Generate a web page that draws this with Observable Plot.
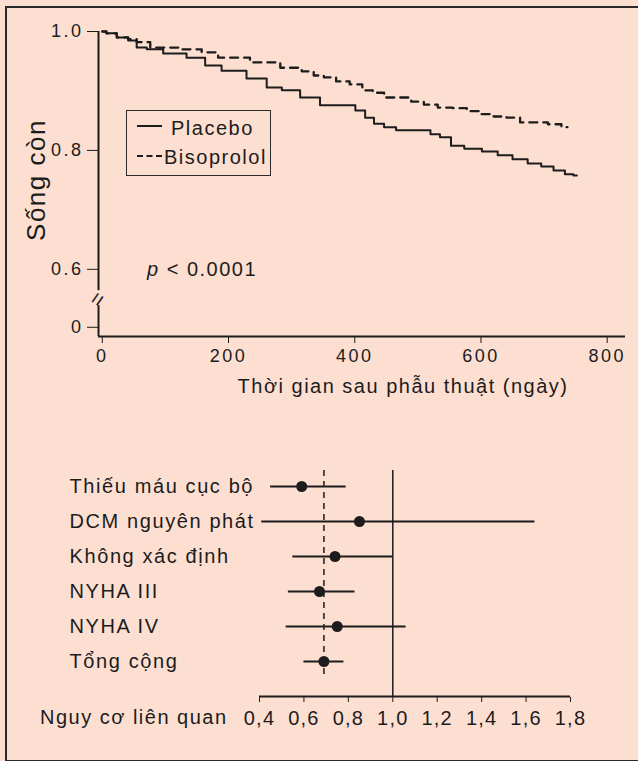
<!DOCTYPE html>
<html><head><meta charset="utf-8">
<script src="https://cdn.jsdelivr.net/npm/d3@7"></script>
<script src="https://cdn.jsdelivr.net/npm/@observablehq/plot@0.6"></script>
<style>
html,body{margin:0;padding:0;background:#fddfd1;}
#wrap{position:relative;width:638px;height:761px;overflow:hidden;background:#fddfd1;font-family:"Liberation Sans",Arial,sans-serif;color:#1c1c1c;}
#frame{position:absolute;left:5px;top:6px;width:700px;height:752px;border:2px solid #2a2a2a;}
.abs{position:absolute;white-space:nowrap;}
#top svg text{letter-spacing:2.5px;}
#bottom svg text{letter-spacing:1.2px;}
#bottom svg g[aria-label="text"] text{letter-spacing:1.6px;}
.lbl{font-size:20px;letter-spacing:1.5px;line-height:1;}
#legend{left:126px;top:110px;width:145px;height:66px;box-sizing:border-box;border:1.5px solid #2a2a2a;}
.sample{position:absolute;left:10px;width:25px;height:0;}
</style></head><body>
<div id="wrap">
  <div id="frame"></div>
  <div id="top" class="abs" style="left:0;top:0;width:638px"></div>
  <div id="bottom" class="abs" style="left:0;top:440px;width:638px"></div>
  <div class="abs lbl" id="ylab" style="left:36px;top:180px;font-size:26px;transform:translate(-50%,-50%) rotate(-90deg);">Sống còn</div>
  <div class="abs lbl" id="xlab" style="left:403px;top:376px;transform:translateX(-50%);">Thời gian sau phẫu thuật (ngày)</div>
  <div class="abs" id="legend">
    <div class="sample" style="top:14px;border-top:2px solid #1c1c1c;"></div>
    <div class="abs lbl" style="left:44px;top:7px;">Placebo</div>
    <div class="sample" style="top:44px;border-top:2px dashed #1c1c1c;"></div>
    <div class="abs lbl" style="left:37px;top:36px;">Bisoprolol</div>
  </div>
  <div class="abs lbl" style="left:147px;top:259px;"><i>p</i> &lt; 0.0001</div>
  <div class="abs lbl" style="left:40px;top:707px;">Nguy cơ liên quan</div>
</div>
<script>
const ink = "#1c1c1c";
const font = "'Liberation Sans', Arial, sans-serif";

// Kaplan–Meier survival (days after surgery, survival proportion)
const placeboDays = [0, 13, 33, 49, 60, 81, 112, 155, 171, 207, 250, 271, 298, 329, 361, 393, 409, 424, 437, 456, 475, 516, 524, 546, 559, 588, 615, 638, 662, 686, 705, 725, 741, 752];
const placeboSurv = [1.0, 0.997, 0.990, 0.985, 0.973, 0.970, 0.963, 0.956, 0.943, 0.934, 0.921, 0.906, 0.901, 0.889, 0.876, 0.876, 0.867, 0.855, 0.845, 0.839, 0.834, 0.834, 0.827, 0.822, 0.808, 0.803, 0.798, 0.792, 0.785, 0.778, 0.773, 0.766, 0.760, 0.758];
const bisoDays = [0, 13, 33, 49, 60, 92, 155, 160, 207, 261, 303, 329, 341, 361, 380, 404, 420, 437, 456, 480, 499, 520, 543, 567, 588, 610, 630, 651, 673, 694, 718, 737];
const bisoSurv = [1.0, 0.997, 0.990, 0.987, 0.982, 0.973, 0.970, 0.965, 0.956, 0.948, 0.939, 0.933, 0.926, 0.923, 0.916, 0.911, 0.901, 0.897, 0.889, 0.889, 0.882, 0.877, 0.872, 0.871, 0.866, 0.861, 0.857, 0.855, 0.847, 0.847, 0.844, 0.839];
const dayTicks = [0, 200, 400, 600, 800];
const survTicks = [0, 0.6, 0.8, 1.0];

// Forest plot: relative risk with confidence interval
const groups = ["Thiếu máu cục bộ", "DCM nguyên phát", "Không xác định", "NYHA III", "NYHA IV", "Tổng cộng"];
const hr = [0.59, 0.85, 0.74, 0.67, 0.75, 0.69];
const lo = [0.45, 0.41, 0.55, 0.53, 0.52, 0.60];
const hi = [0.79, 1.64, 1.00, 0.83, 1.06, 0.78];
const hrTicks = [0.4, 0.6, 0.8, 1.0, 1.2, 1.4, 1.6, 1.8];
const nullHR = 1.0;
const overallHR = 0.69;

const placebo = placeboDays.map((d, i) => ({day: d, surv: placeboSurv[i]}));
const biso = bisoDays.map((d, i) => ({day: d, surv: bisoSurv[i]}));
const rows = groups.map((g, i) => ({group: g, hr: hr[i], lo: lo[i], hi: hi[i]}));

// broken y axis: the true zero is drawn just below the break
const xStart = -6, xEnd = 829;
const yBase = 0.487;      // position of the x-axis baseline
const yZero = 0.5025;     // where the "0" tick sits, below the break
const yBreakLo = 0.539, yBreakHi = 0.564, yBreak = 0.551;
const tickPos = v => v === 0 ? yZero : v;

const survival = Plot.plot({
  width: 638, height: 400,
  marginLeft: 98, marginRight: 13, marginTop: 31, marginBottom: 64,
  style: {background: "transparent", color: ink, fontFamily: font, overflow: "visible"},
  x: {domain: [xStart, xEnd]},
  y: {domain: [yBase, 1.0]},
  marks: [
    Plot.ruleY([yBase], {y: d => d, stroke: ink, strokeWidth: 2}),
    Plot.ruleX([xStart], {x: d => d, y1: () => yBase, y2: () => yBreakLo, stroke: ink, strokeWidth: 2}),
    Plot.ruleX([xStart], {x: d => d, y1: () => yBreakHi, y2: () => 1.0, stroke: ink, strokeWidth: 2}),
    Plot.text([yBreak], {x: () => xStart, y: d => d, text: () => "=", rotate: -55, fontSize: 22, fill: ink}),
    Plot.axisY({ticks: survTicks.map(tickPos), tickFormat: v => v < yBreak ? "0" : v.toFixed(1), tickSize: 11, tickPadding: 4, fontSize: 18, label: null}),
    Plot.axisX({ticks: dayTicks, tickSize: 7, tickPadding: 6, fontSize: 18, label: null}),
    Plot.line(placebo, {x: "day", y: "surv", curve: "step", stroke: ink, strokeWidth: 2}),
    Plot.line(biso, {x: "day", y: "surv", curve: "step", stroke: ink, strokeWidth: 2.3, strokeDasharray: "8,6"})
  ]
});
document.getElementById("top").append(survival);

const axisRow = "";
const forest = Plot.plot({
  width: 638, height: 300,
  marginLeft: 259, marginRight: 68, marginTop: 20, marginBottom: 43,
  style: {background: "transparent", color: ink, fontFamily: font, overflow: "visible"},
  x: {domain: [0.4, 1.8]},
  y: {type: "point", domain: [...groups, axisRow], range: [44, 257], padding: 0, axis: null},
  marks: [
    Plot.ruleY([axisRow], {y: d => d, stroke: ink, strokeWidth: 1.8}),
    Plot.axisX({ticks: hrTicks, tickSize: 5, tickPadding: 8, tickFormat: d => d.toFixed(1).replace(".", ","), fontSize: 20, label: null}),
    Plot.ruleX([nullHR], {x: d => d, y1: () => groups[0], y2: () => axisRow, insetTop: -16, stroke: ink, strokeWidth: 1.5}),
    Plot.ruleX([overallHR], {x: d => d, y1: () => groups[0], y2: () => groups[groups.length - 1], insetTop: -16, insetBottom: -18, stroke: ink, strokeWidth: 1.5, strokeDasharray: "6,5"}),
    Plot.ruleY(rows, {y: "group", x1: "lo", x2: "hi", stroke: ink, strokeWidth: 1.8}),
    Plot.dot(rows, {x: "hr", y: "group", r: 5.5, fill: ink}),
    Plot.text(groups, {y: d => d, text: d => d, frameAnchor: "left", dx: -190, textAnchor: "start", fontSize: 20, fill: ink})
  ]
});
document.getElementById("bottom").append(forest);
</script>
</body></html>
